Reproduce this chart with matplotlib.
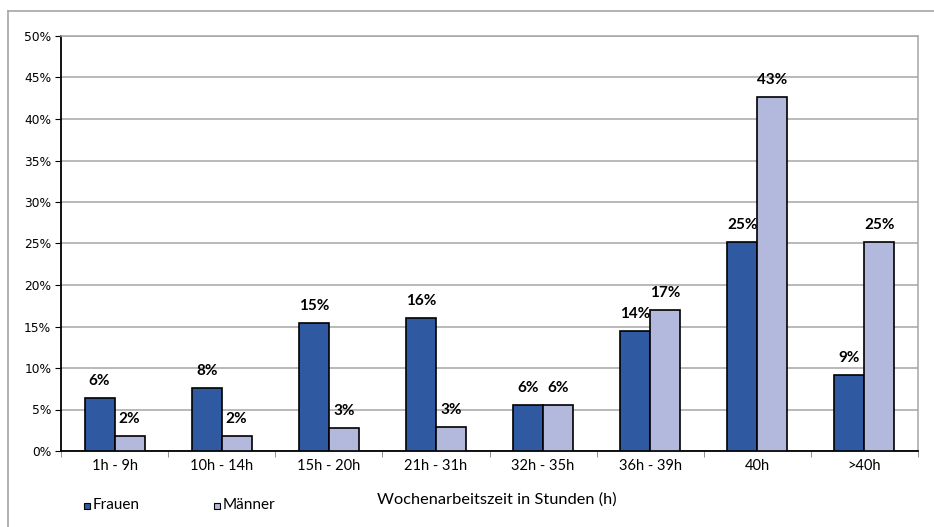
import matplotlib
matplotlib.use("Agg")
import matplotlib.pyplot as plt
import numpy as np
from matplotlib.patches import Rectangle
from matplotlib.lines import Line2D

# Daten (Anteil in %)
kategorien = ["1h - 9h", "10h - 14h", "15h - 20h", "21h - 31h",
              "32h - 35h", "36h - 39h", "40h", ">40h"]
frauen = [6.35, 7.55, 15.4, 16.0, 5.55, 14.45, 25.2, 9.15]
maenner = [1.85, 1.8, 2.8, 2.95, 5.5, 17.0, 42.6, 25.2]
y_ticks = [0, 5, 10, 15, 20, 25, 30, 35, 40, 45, 50]

c_frauen = "#2f5aa2"
c_maenner = "#b2b9dc"
font = "Lato"

fig = plt.figure(figsize=(9.34, 5.27), dpi=100)
W, H = 934, 527
ax = fig.add_axes([61 / W, 1 - 451 / H, (918 - 61) / W, (451 - 36) / H])

# outer frame (only top and left visible)
fig.add_artist(Line2D([8 / W, 1], [1 - 11 / H, 1 - 11 / H], transform=fig.transFigure,
                      color="#a6a6a6", lw=1.2))
fig.add_artist(Line2D([8 / W, 8 / W], [0, 1 - 11 / H], transform=fig.transFigure,
                      color="#a6a6a6", lw=1.2))

x = np.arange(len(kategorien))
bw = 0.28
ax.bar(x - bw / 2, frauen, bw, color=c_frauen, edgecolor="black", linewidth=1.2, zorder=3)
ax.bar(x + bw / 2, maenner, bw, color=c_maenner, edgecolor="black", linewidth=1.2, zorder=3)

for xi, v in zip(x, frauen):
    ax.text(xi - bw / 2, v + 1.2, f"{round(v)}%", ha="center", va="bottom",
            fontsize=11, fontweight="bold", family=font)
for xi, v in zip(x, maenner):
    ax.text(xi + bw / 2, v + 1.2, f"{round(v)}%", ha="center", va="bottom",
            fontsize=11, fontweight="bold", family=font)

ax.set_xlim(-0.5, len(kategorien) - 0.5)
ax.set_ylim(0, 50)
ax.set_yticks(y_ticks)
ax.set_yticklabels([f"{t}%" for t in y_ticks], fontsize=8.8, family="DejaVu Sans")
ax.yaxis.grid(True, color="#a6a6a6", lw=1.1, zorder=0)
ax.set_axisbelow(True)

ax.set_xticks(x)
ax.set_xticklabels(kategorien, fontsize=10.5, family=font)
ax.set_xticks(np.arange(len(kategorien) + 1) - 0.5, minor=True)
ax.tick_params(axis="x", which="major", length=0, pad=6)
ax.tick_params(axis="x", which="minor", length=4, color="#808080")
ax.tick_params(axis="y", length=4, pad=3)

for s in ["top", "right"]:
    ax.spines[s].set_color("#a6a6a6")
    ax.spines[s].set_linewidth(1.1)
for s in ["left", "bottom"]:
    ax.spines[s].set_color("black")
    ax.spines[s].set_linewidth(1.3)

fig.text(497 / W, 1 - 500 / H, "Wochenarbeitszeit in Stunden (h)", ha="center", va="center",
         fontsize=11.8, family=font)

# legend
for px, lab, col in [(84, "Frauen", c_frauen), (214, "Männer", c_maenner)]:
    fig.add_artist(Rectangle((px / W, 1 - 509 / H), 6 / W, 6 / H, transform=fig.transFigure,
                             facecolor=col, edgecolor="black", lw=0.8))
    fig.text((px + 9) / W, 1 - 505 / H, lab, ha="left", va="center", fontsize=11, family=font)

fig.savefig("out.png", dpi=100)
